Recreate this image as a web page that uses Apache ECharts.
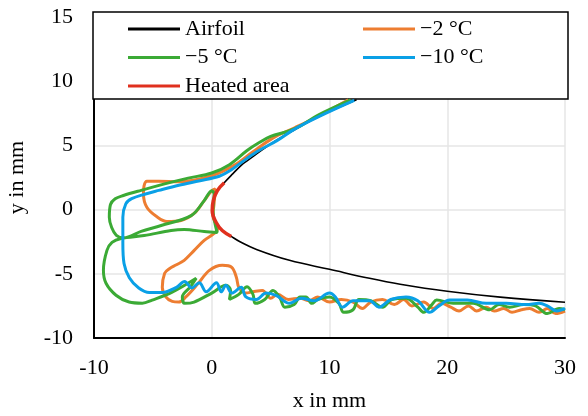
<!DOCTYPE html>
<html>
<head>
<meta charset="utf-8">
<script src="https://cdn.jsdelivr.net/npm/echarts@6/dist/echarts.min.js"></script>
<style>
  html, body { margin: 0; padding: 0; background: #fff; }
  #chart { width: 588px; height: 416px; }
</style>
</head>
<body>
<div id="chart"></div>
<script>
// series names
const names = ['Airfoil', '\u22122 \u00b0C', '\u22125 \u00b0C', '\u221210 \u00b0C', 'Heated area'];
const xTicks = [-10, 0, 10, 20, 30];
const yTicks = [-10, -5, 0, 5, 10, 15];

// airfoil contour (visible part), upper surface -> nose -> lower surface
const airfoil = [
  [12.3, 8.55], [9, 7.2], [7, 6.2], [5, 5.1],
  [3, 3.8], [2.5, 3.45], [1.8, 2.8], [1.06, 2.09], [0.47, 1.47], [0.13, 0.7],
  [0.04, -0.08], [0.38, -1.01], [0.89, -1.63], [1.66, -2.09], [2.4, -2.5],
  [3.8, -3.1], [6.6, -3.95], [10, -4.65], [13.4, -5.35], [16, -5.81],
  [20, -6.36], [24.5, -6.82], [30, -7.21]
];

// heated leading edge
const heated = [
  [1.06, 2.09], [0.47, 1.47], [0.13, 0.7], [0.04, -0.08], [0.38, -1.01],
  [0.89, -1.63], [1.66, -2.09]
];

// ice shape at -2 C
const ice2 = [
  [11.6, 8.55], [9, 7.25], [7, 6.35], [5.15, 5.55], [3.5, 4.5],
  [2, 3.5], [0, 2.64], [-2.77, 2.17], [-4.5, 2.2], [-5.5, 2.2], [-5.75, 1.85],
  [-5.8, 1.24], [-5.5, 0.16], [-4.6, -0.6], [-3.8, -0.93], [-2.6, -0.85],
  [-1.5, -0.3], [-0.64, 0.7], [0, 1.47], [0.3, 1.6], [0.2, 0.5], [0.1, -0.5],
  [0.5, -1.5], [0.2, -1.86], [-0.64, -2.4], [-1.49, -3.18], [-2.34, -3.95],
  [-3.0, -4.3], [-3.6, -4.6], [-4.0, -4.96], [-4.2, -6.05], [-3.9, -6.8],
  [-3.36, -7.15], [-2.8, -7.2], [-2.2, -6.8], [-1.2, -5.8], [-0.2, -4.73],
  [0.9, -4.34], [1.7, -4.5], [2.1, -5.3], [2.3, -6.05], [2.9, -6.5],
  [3.5, -6.4], [4.3, -6.3], [5, -6.9], [5.6, -6.6], [6.5, -7.0], [7.5, -6.9],
  [8.3, -7.1], [9, -6.8], [10, -7.2], [11, -7.0], [12, -7.2], [12.8, -7.7],
  [13.5, -7.2], [14.5, -7.0], [15.5, -7.4], [16.3, -7.0], [17, -7.5],
  [18, -7.2], [18.8, -7.7], [19.5, -7.3], [20.3, -7.6], [21, -7.9],
  [21.8, -7.5], [22.5, -7.9], [23.3, -7.6], [24, -7.9], [24.8, -7.7],
  [25.5, -8.0], [26.3, -7.8], [27, -7.7], [27.8, -8.0], [28.5, -7.7],
  [29.2, -8.1], [30, -7.9]
];

// ice shape at -5 C
const ice5 = [
  [11.8, 8.55], [9, 7.35], [7.5, 6.5], [6.5, 6.1], [5, 5.7], [4, 5.2],
  [3, 4.6], [1.5, 3.5], [0, 2.85], [-2, 2.45], [-4, 2.0], [-6, 1.5],
  [-7.5, 1.1], [-8.2, 0.85], [-8.6, 0.4], [-8.7, -0.6], [-8.5, -1.4],
  [-8.1, -2.0], [-7.5, -2.2], [-6, -1.7], [-4.3, -1.24], [-1.75, -0.47],
  [-0.64, 0.7], [0, 1.47], [0.2, 1.2], [0.1, 0], [0.3, -1.2], [0.47, -1.78],
  [-0.64, -1.71], [-2.34, -1.55], [-3.45, -1.63], [-5.74, -2.02],
  [-7.7, -2.25], [-8.47, -2.56], [-8.9, -3.18], [-9.2, -4.73], [-8.98, -5.74],
  [-8.13, -6.67], [-7.02, -7.2], [-5.9, -7.29], [-5.06, -7.05], [-3.36, -6.43],
  [-1.32, -5.35], [-1.8, -6.0], [-2.5, -6.8], [-2.3, -7.3], [-1.5, -7.2],
  [0, -6.5], [1.2, -5.9], [1.6, -6.3], [1.5, -7.0], [2.3, -6.6], [3.0, -6.0],
  [3.5, -6.6], [3.7, -7.3], [4.5, -7.0], [5.2, -6.3], [5.8, -6.9],
  [6.2, -7.6], [7, -7.4], [7.5, -6.8], [8, -6.8], [8.5, -7.3], [9, -7.0],
  [10, -6.8], [10.8, -7.3], [11.2, -8.0], [12, -7.8], [12.5, -7.0],
  [13.5, -7.1], [14.5, -7.6], [15.3, -7.0], [16.5, -6.9], [17.5, -7.6],
  [18, -8.0], [18.7, -7.4], [19.1, -7.05], [20.5, -7.3], [22.2, -7.3],
  [23.6, -7.8], [24.4, -7.4], [25.3, -7.6], [26.5, -7.4], [27.5, -7.5],
  [28.5, -8.1], [29.5, -7.7], [30, -7.8]
];

// ice shape at -10 C
const ice10 = [
  [12.1, 8.5], [9, 7.2], [7, 6.25], [5.5, 5.35], [4, 4.6],
  [2.94, 3.95], [1.5, 3.0], [0.64, 2.6], [-1, 2.25], [-2.8, 1.9], [-4.5, 1.5],
  [-5.7, 1.2], [-6.8, 0.85], [-7.3, 0.45], [-7.55, -0.6], [-7.55, -2.6],
  [-7.45, -4.2], [-7.0, -5.3], [-6.2, -6.1], [-5.3, -6.45], [-4.2, -6.45],
  [-3.0, -6.05], [-2.3, -5.6], [-1.7, -6.1], [-1.06, -5.7], [-0.47, -6.4],
  [0.4, -5.7], [0.8, -6.4], [1.2, -5.9], [1.7, -6.5], [2.5, -6.05],
  [2.9, -6.8], [3.8, -7.0], [4.6, -6.5], [5.5, -6.7], [6.6, -7.3],
  [7.6, -6.9], [8.7, -7.1], [10, -6.5], [10.5, -6.8], [11.1, -7.6],
  [12.0, -7.1], [13.4, -7.1], [14.2, -7.6], [15.2, -7.0], [16.5, -6.8],
  [17.5, -7.1], [18.5, -8.0], [19.3, -7.5], [20.2, -7.05], [21.7, -7.05],
  [23.3, -7.3], [25, -7.3], [26.7, -7.4], [27.8, -7.3], [28.5, -7.5],
  [29.3, -7.9], [30, -7.7]
];

const colors = ['#000000', '#ED7D31', '#3BAA35', '#0AA0E6', '#E0301E'];
const font = '"Liberation Serif", "Times New Roman", serif';

const chart = echarts.init(document.getElementById('chart'), null, { renderer: 'canvas' });

function lineSeries(name, data, color, width, smooth) {
  return {
    name: name,
    type: 'line',
    data: data,
    showSymbol: false,
    symbol: 'none',
    smooth: smooth,
    lineStyle: { color: color, width: width },
    itemStyle: { color: color },
    animation: false
  };
}

const legendText = { fontFamily: font, fontSize: 22, color: '#000', lineHeight: 22 };

const option = {
  animation: false,
  grid: { left: 94, right: 23, top: 17, bottom: 78, outerBoundsMode: 'none' },
  xAxis: {
    type: 'value',
    min: xTicks[0], max: xTicks[xTicks.length - 1], interval: 10,
    name: 'x in mm', nameLocation: 'middle', nameGap: 52,
    nameTextStyle: { fontFamily: font, fontSize: 22, color: '#000' },
    axisLine: { show: true, onZero: false, lineStyle: { color: '#000', width: 2 } },
    axisTick: { show: false },
    axisLabel: { fontFamily: font, fontSize: 22, color: '#000', margin: 19 },
    splitLine: { show: true, lineStyle: { color: '#e6e6e6', width: 1.5 } }
  },
  yAxis: {
    type: 'value',
    min: yTicks[0], max: yTicks[yTicks.length - 1], interval: 5,
    name: 'y in mm', nameLocation: 'middle', nameGap: 66,
    nameTextStyle: { fontFamily: font, fontSize: 22, color: '#000' },
    axisLine: { show: true, onZero: false, lineStyle: { color: '#000', width: 2 } },
    axisTick: { show: false },
    axisLabel: { fontFamily: font, fontSize: 22, color: '#000', margin: 21 },
    splitLine: { show: true, lineStyle: { color: '#e6e6e6', width: 1.5 } }
  },
  graphic: [{
    type: 'rect', z: 3,
    shape: { x: 93, y: 12, width: 475, height: 87 },
    style: { fill: '#fff', stroke: '#000', lineWidth: 1.5 }
  }],
  legend: [{
    orient: 'vertical', left: 128, top: 18, padding: 0, itemGap: 6.5,
    itemWidth: 52, itemHeight: 3, icon: 'rect', z: 5,
    data: [names[0], names[2], names[4]],
    textStyle: legendText
  }, {
    orient: 'vertical', left: 363, top: 18, padding: 0, itemGap: 6.5,
    itemWidth: 52, itemHeight: 3, icon: 'rect', z: 5,
    data: [names[1], names[3]],
    textStyle: legendText
  }],
  series: [
    lineSeries(names[0], airfoil, colors[0], 1.6, 0.4),
    lineSeries(names[1], ice2, colors[1], 3, 0.35),
    lineSeries(names[2], ice5, colors[2], 3, 0.35),
    lineSeries(names[3], ice10, colors[3], 3, 0.35),
    lineSeries(names[4], heated, colors[4], 3.5, 0.4)
  ]
};

chart.setOption(option);
</script>
</body>
</html>
